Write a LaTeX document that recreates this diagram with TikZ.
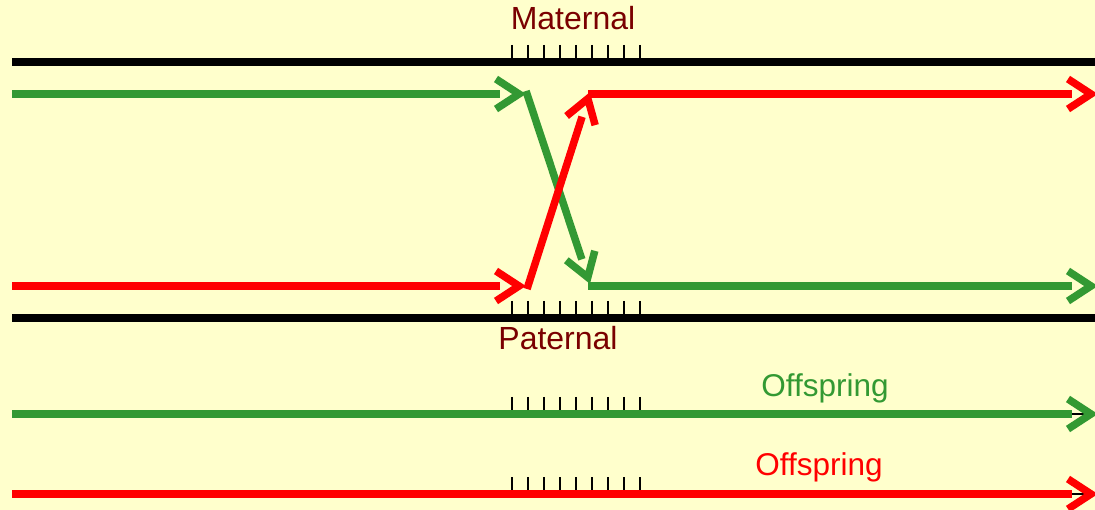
\documentclass[tikz,border=0pt]{standalone}
\usepackage{fontspec}
\setmainfont{Liberation Sans}
\usetikzlibrary{calc}
\definecolor{bgc}{RGB}{255,255,204}
\definecolor{grc}{RGB}{51,153,51}
\definecolor{rdc}{RGB}{255,0,0}
\definecolor{drc}{RGB}{122,0,0}
\newcommand\chevhead[3]{% colour, from, visible tip
  \draw[#1, line width=7.5pt, line join=miter, line cap=butt]
    ($(#3)!30pt!(#2)!15pt!90:(#3)$) -- ($(#3)!7pt!(#2)$) -- ($(#3)!30pt!(#2)!15pt!-90:(#3)$);}
\newcommand\shaftline[3]{% colour, from, visible tip
  \draw[#1, line width=7.5pt, line cap=butt] (#2) -- ($(#3)!26pt!(#2)$);}
\begin{document}
\begin{tikzpicture}[x=1pt,y=-1pt,
  chrom/.style={black, line width=8pt},
  tickmark/.style={black, line width=2pt},
  lab/.style={font=\fontsize{32}{38}\selectfont, inner sep=0pt, anchor=base},
  offlab/.style={font=\fontsize{31.5}{38}\selectfont, inner sep=0pt, anchor=base}]
\fill[bgc] (0,0) rectangle (1095,510);
\useasboundingbox (0,0) rectangle (1095,510);
\clip (0,0) rectangle (1095,510);
% chromosomes
\coordinate (mL) at (12,62);  \coordinate (mR) at (1100,62);
\coordinate (pL) at (12,318); \coordinate (pR) at (1100,318);
\draw[chrom] (mL) -- (mR);
\draw[chrom] (pL) -- (pR);
\foreach \i in {0,...,8}{
  \draw[tickmark] (512+16*\i,45) -- (512+16*\i,58);
  \draw[tickmark] (512+16*\i,301) -- (512+16*\i,314);
  \draw[tickmark] (512+16*\i,397) -- (512+16*\i,410);
  \draw[tickmark] (512+16*\i,477) -- (512+16*\i,490);
}
\node[lab, text=drc] (mat) at (573,30) {Maternal};
\node[lab, text=drc] (pat) at (558,350) {Paternal};
% green path
\coordinate (g1) at (12,94);
\coordinate (g2) at (526,94);
\coordinate (g3) at (526,91);
\coordinate (g4) at (590,284);
\coordinate (g5) at (588,286);
\coordinate (g6) at (1098,286);
\shaftline{grc}{g1}{g2}\chevhead{grc}{g1}{g2}
\shaftline{grc}{g3}{g4}\chevhead{grc}{g3}{g4}
\shaftline{grc}{g5}{g6}\chevhead{grc}{g5}{g6}
% red path
\coordinate (r1) at (12,286);
\coordinate (r2) at (526,286);
\coordinate (r3) at (527,289);
\coordinate (r4) at (590,92);
\coordinate (r5) at (588,94);
\coordinate (r6) at (1098,94);
\shaftline{rdc}{r1}{r2}\chevhead{rdc}{r1}{r2}
\shaftline{rdc}{r3}{r4}\chevhead{rdc}{r3}{r4}
\shaftline{rdc}{r5}{r6}\chevhead{rdc}{r5}{r6}
% offspring
\coordinate (og1) at (12,414); \coordinate (og2) at (1098,414);
\coordinate (or1) at (12,494); \coordinate (or2) at (1098,494);
\draw[black, line width=1.2pt] ($(og2)!27pt!(og1)$) -- ($(og2)!5pt!(og1)$);
\draw[black, line width=1.2pt] ($(or2)!27pt!(or1)$) -- ($(or2)!5pt!(or1)$);
\shaftline{grc}{og1}{og2}\chevhead{grc}{og1}{og2}
\shaftline{rdc}{or1}{or2}\chevhead{rdc}{or1}{or2}
\node[offlab, text=grc] (offg) at (825,396) {Offspring};
\node[offlab, text=rdc] (offr) at (819,475) {Offspring};
\end{tikzpicture}
\end{document}
